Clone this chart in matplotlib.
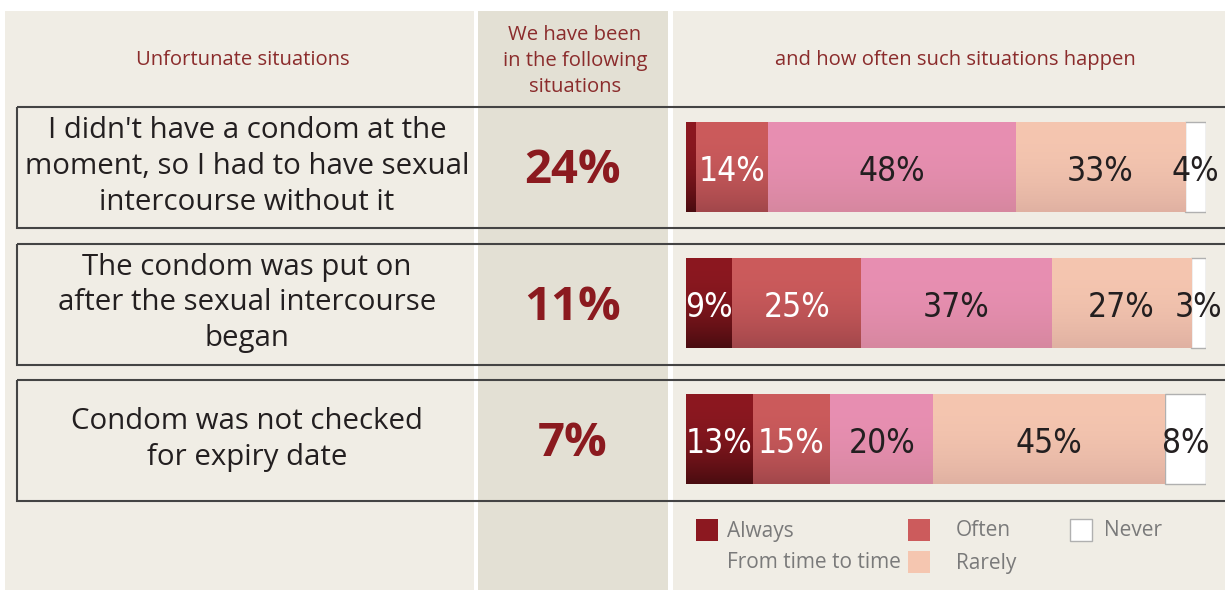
import numpy as np
import matplotlib
matplotlib.use("Agg")
import matplotlib.pyplot as plt
from matplotlib import font_manager
from matplotlib.patches import Rectangle
from matplotlib.colors import to_rgb

# ---------------- data ----------------
situations = [
    "I didn't have a condom at the\nmoment, so I had to have sexual\nintercourse without it",
    "The condom was put on\nafter the sexual intercourse\nbegan",
    "Condom was not checked\nfor expiry date",
]
been_in = ["24%", "11%", "7%"]
categories = ["Always", "Often", "From time to time", "Rarely", "Never"]
always = [2, 9, 13]
often = [14, 25, 15]
time_to_time = [48, 37, 20]
rarely = [33, 27, 45]
never = [4, 3, 8]
header_left = "Unfortunate situations"
header_mid = "We have been\nin the following\nsituations"
header_right = "and how often such situations happen"

series = [always, often, time_to_time, rarely, never]
top_colors = ["#8c1820", "#cc5b5c", "#e88fb2", "#f5c6b0", "#ffffff"]
bot_colors = ["#4a0c10", "#a2474b", "#d6879f", "#e0b1a2", "#ffffff"]
label_colors = ["white", "white", "#231f20", "#231f20", "#231f20"]

# ---------------- fonts ----------------
names = {f.name for f in font_manager.fontManager.ttflist}
if "Liberation Sans Narrow" in names:
    narrow = dict(family="Liberation Sans Narrow")
else:
    narrow = dict(family="DejaVu Sans", stretch="condensed")
main_font = "Open Sans"

W, H = 1225, 590
fig = plt.figure(figsize=(W / 100, H / 100), dpi=100)
fig.patch.set_facecolor("white")

bg = fig.add_axes([0, 0, 1, 1])
bg.set_xlim(0, W)
bg.set_ylim(H, 0)
bg.axis("off")

panel = "#f0ede5"
panel_mid = "#e3e0d4"
bg.add_patch(Rectangle((5, 11), 469, H - 11, facecolor=panel, edgecolor="none"))
bg.add_patch(Rectangle((478, 11), 190, H - 11, facecolor=panel_mid, edgecolor="none"))
bg.add_patch(Rectangle((673, 11), W - 673, H - 11, facecolor=panel, edgecolor="none"))

hdr_col = "#8b2c2c"
bg.text(243, 60, header_left, ha="center", va="center", fontsize=14.6,
        color=hdr_col, family=main_font)
bg.text(575, 61, header_mid, ha="center", va="center", fontsize=14.6,
        color=hdr_col, family=main_font, linespacing=1.4)
bg.text(955, 60, header_right, ha="center", va="center", fontsize=14.6,
        color=hdr_col, family=main_font)

row_top0, row_step, row_h = 107, 136.5, 121
for i, (s, p) in enumerate(zip(situations, been_in)):
    top = row_top0 + i * row_step
    bg.add_patch(Rectangle((17, top), 1240, row_h, facecolor="none",
                           edgecolor="#444444", lw=1.5, zorder=3))
    cy = top + row_h / 2
    bg.text(247, cy - 1, s, ha="center", va="center", fontsize=21.2,
            color="#231f20", family=main_font, linespacing=1.31)
    bg.text(573, cy + 3, p, ha="center", va="center", fontsize=34,
            color="#8b1a1f", family=main_font, fontweight="bold")

# ---------------- bars ----------------
x0_px, x1_px = 686, 1206
y_top_px, y_bot_px = 99, 99 + 3 * 136
ax = fig.add_axes([x0_px / W, 1 - y_bot_px / H, (x1_px - x0_px) / W,
                   (y_bot_px - y_top_px) / H])
ax.set_zorder(5)
ax.patch.set_alpha(0)
ypos = np.arange(len(situations)) + 0.5
left = np.zeros(len(situations))
tot = np.sum(series, axis=0)
bar_h = 0.665
for k, vals in enumerate(series):
    vals = np.array(vals, dtype=float)
    bars = ax.barh(ypos, vals, left=left, height=bar_h, color=top_colors[k],
                   edgecolor="#b0b0b0" if k == 4 else "none",
                   linewidth=1.0 if k == 4 else 0, zorder=2)
    if k < 4:
        t = np.linspace(0, 1, 64) ** 2.2
        c0, c1 = np.array(to_rgb(top_colors[k])), np.array(to_rgb(bot_colors[k]))
        grad = (c0[None, :] * (1 - t[:, None]) + c1[None, :] * t[:, None])[:, None, :]
        for b in bars:
            bx, by = b.get_x(), b.get_y()
            bw, bh = b.get_width(), b.get_height()
            im = ax.imshow(grad, extent=[bx, bx + bw, by + bh, by], origin="upper",
                           aspect="auto", interpolation="bilinear", zorder=2.5)
            im.set_clip_path(b)
    for j, v in enumerate(vals):
        if v >= 3:
            ax.text(left[j] + v / 2, ypos[j] + 0.03, f"{int(v)}%", ha="center",
                    va="center", fontsize=24, color=label_colors[k], zorder=4,
                    **narrow)
    left += vals
ax.set_xlim(0, tot.max())
ax.set_ylim(3, 0)
ax.axis("off")

# ---------------- legend ----------------
leg_col = "#7a7a7a"
leg_pos = [(696, 519), (908, 519), (None, 551), (908, 551), (1070, 519)]
text_pos = [(727, 531), (956, 531), (727, 563), (956, 563), (1104, 531)]
for k, cat in enumerate(categories):
    sx, sy = leg_pos[k]
    if sx is not None:
        bg.add_patch(Rectangle((sx, sy), 22, 22, facecolor=top_colors[k],
                               edgecolor="#b0b0b0" if k == 4 else "none", lw=1.0))
    tx, ty = text_pos[k]
    bg.text(tx, ty, cat, ha="left", va="center", fontsize=15, color=leg_col,
            family=main_font)

fig.savefig("out.png", dpi=100, facecolor="white")
